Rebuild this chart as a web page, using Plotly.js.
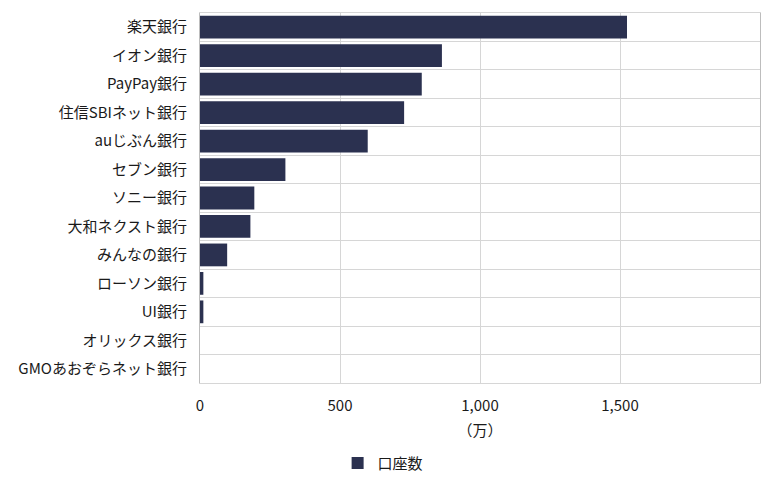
<!DOCTYPE html>
<html>
<head>
<meta charset="utf-8">
<script src="https://cdn.plot.ly/plotly-3.0.1.min.js"></script>
<style>
  html, body { margin: 0; padding: 0; background: #fff; }
  #chart { width: 764px; height: 491px; }
</style>
</head>
<body>
<div id="chart"></div>
<script>
// 銀行ごとの口座数（万）
const banks = [
    "楽天銀行", "イオン銀行", "PayPay銀行", "住信SBIネット銀行", "auじぶん銀行",
    "セブン銀行", "ソニー銀行", "大和ネクスト銀行", "みんなの銀行", "ローソン銀行",
    "UI銀行", "オリックス銀行", "GMOあおぞらネット銀行"
];
const accounts = [1525, 864, 792, 729, 599, 305, 194, 180, 97, 12, 12, 0, 0];
const xTicks = [0, 500, 1000, 1500];
const xTickText = ["0", "500", "1,000", "1,500"];

const font = "'Noto Sans CJK JP', 'Noto Sans', sans-serif";

const data = [{
    type: "bar",
    orientation: "h",
    name: "口座数",
    y: banks,
    x: accounts,
    marker: {color: "#2b3150", line: {width: 0}},
    hoverinfo: "y+x"
}];

const layout = {
    width: 764,
    height: 491,
    margin: {l: 200, r: 4, t: 13, b: 108, autoexpand: false},
    paper_bgcolor: "#fff",
    plot_bgcolor: "#fff",
    font: {family: font, size: 15, color: "#1a1a1a"},
    bargap: 0.2,
    showlegend: true,
    legend: {
        orientation: "h",
        x: 0.327,
        xanchor: "center",
        y: -0.172,
        yanchor: "top",
        font: {size: 15, color: "#1a1a1a"}
    },
    xaxis: {
        range: [0, 2000],
        tickvals: xTicks,
        ticktext: xTickText,
        tickangle: 0,
        showgrid: true,
        gridcolor: "#d6d6d6",
        zeroline: false,
        showline: true,
        mirror: true,
        linecolor: "#d6d6d6",
        ticks: "",
        ticklabelstandoff: 9,
        tickfont: {size: 15, color: "#1a1a1a"},
        title: {text: "（万）", font: {size: 15, color: "#1a1a1a"}, standoff: 11},
        fixedrange: true
    },
    yaxis: {
        type: "category",
        autorange: "reversed",
        tickson: "boundaries",
        showgrid: true,
        gridcolor: "#d6d6d6",
        showline: true,
        mirror: true,
        linecolor: "#bdbdbd",
        ticks: "",
        ticklabelstandoff: 9,
        tickfont: {size: 15, color: "#1a1a1a"},
        fixedrange: true
    }
};

Plotly.newPlot("chart", data, layout, {displayModeBar: false});
</script>
</body>
</html>
